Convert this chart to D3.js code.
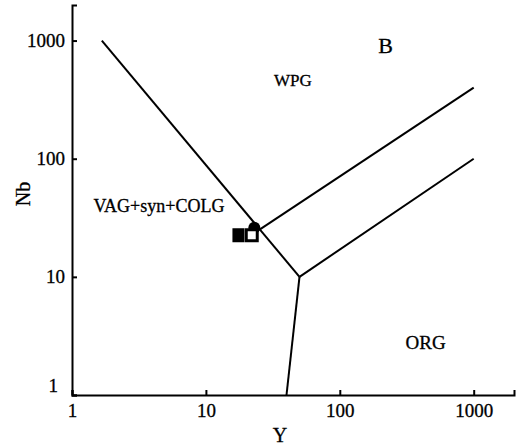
<!DOCTYPE html>
<html lang="en">
<head>
    <meta charset="UTF-8">
    <title>Nb - Y discrimination diagram</title>
    <style>
        body {
            margin: 0;
            padding: 0;
            background: #fff;
            overflow: hidden;
        }

        text {
            font-family: "Liberation Serif", "Times New Roman", serif;
            fill: #000;
            stroke: #000;
            stroke-width: 0.3px;
        }

        .axis path,
        .axis line {
            stroke: #000;
            stroke-width: 2px;
        }

        .boundary {
            fill: none;
            stroke: #000;
            stroke-width: 2px;
        }
    </style>
</head>
<body>
    <script src="https://d3js.org/d3.v7.min.js"></script>
    <script>
        // tick values (both axes, log)
        const yTicksX = [1, 10, 100, 1000];
        const nbTicks = [1, 10, 100, 1000];

        // field boundaries, [Y, Nb]
        const vagWpgLine = [[1.67, 1000], [50, 10]];
        const vagOrgLine = [[40, 1], [50, 10]];
        const orgLowerLine = [[50, 10], [1000, 100]];
        const wpgOrgLine = [[25, 25], [1000, 400]];

        // samples [Y, Nb]
        const filledSquares = [[17.5, 22.5]];
        const openSquares = [[22, 22.5]];
        const circles = [[23, 26]];

        // field labels [text, Y, Nb, size]
        const fieldLabels = [
            ["WPG", 44.6, 415, 17],
            ["VAG+syn+COLG", 4.46, 35.6, 18],
            ["ORG", 438, 2.45, 19],
            ["B", 220, 790, 22]
        ];

        const width = 522, height = 446;

        const svg = d3.select("body").append("svg")
            .attr("width", width)
            .attr("height", height);

        const x = d3.scaleLog().domain([1, 2000]).range([72, 514]);
        const y = d3.scaleLog().domain([1, 2000]).range([395, 5]);

        const fmt = d3.format("d");

        svg.append("g")
            .attr("class", "axis")
            .attr("transform", `translate(0,${y(1)})`)
            .call(d3.axisBottom(x)
                .tickValues(yTicksX)
                .tickFormat(fmt)
                .tickSizeInner(-5)
                .tickSizeOuter(-5)
                .tickPadding(9))
            .call(g => g.selectAll("text").attr("font-size", 19).attr("font-family", null));

        const left = svg.append("g")
            .attr("class", "axis")
            .attr("transform", `translate(${x(1)},0)`)
            .call(d3.axisLeft(y)
                .tickValues(nbTicks)
                .tickFormat(fmt)
                .tickSizeInner(-5)
                .tickSizeOuter(-5)
                .tickPadding(7))
            .call(g => g.selectAll("text").attr("font-size", 19).attr("font-family", null));

        // lowest Nb label sits a bit above the corner
        left.selectAll(".tick text")
            .filter(d => d === 1)
            .attr("dy", "-0.2em")
            .attr("x", -14);

        const line = d3.line()
            .x(d => x(d[0]))
            .y(d => y(d[1]));

        [vagWpgLine, vagOrgLine, orgLowerLine, wpgOrgLine].forEach(pts => {
            svg.append("path")
                .attr("class", "boundary")
                .attr("d", line(pts));
        });

        svg.selectAll(".circ")
            .data(circles)
            .enter().append("circle")
            .attr("cx", d => x(d[0]))
            .attr("cy", d => y(d[1]))
            .attr("r", 6)
            .attr("fill", "#000");

        svg.selectAll(".fsq")
            .data(filledSquares)
            .enter().append("rect")
            .attr("x", d => x(d[0]) - 6)
            .attr("y", d => y(d[1]) - 7)
            .attr("width", 12)
            .attr("height", 14)
            .attr("fill", "#000");

        svg.selectAll(".osq")
            .data(openSquares)
            .enter().append("rect")
            .attr("x", d => x(d[0]) - 5.5)
            .attr("y", d => y(d[1]) - 5.5)
            .attr("width", 11)
            .attr("height", 11)
            .attr("fill", "#fff")
            .attr("stroke", "#000")
            .attr("stroke-width", 3);

        svg.selectAll(".field")
            .data(fieldLabels)
            .enter().append("text")
            .attr("x", d => x(d[1]))
            .attr("y", d => y(d[2]))
            .attr("text-anchor", "middle")
            .attr("font-size", d => d[3])
            .text(d => d[0]);

        svg.append("text")
            .attr("x", 280)
            .attr("y", 442)
            .attr("text-anchor", "middle")
            .attr("font-size", 20)
            .text("Y");

        svg.append("text")
            .attr("transform", "translate(30,194) rotate(-90)")
            .attr("text-anchor", "middle")
            .attr("font-size", 20)
            .text("Nb");
    </script>
</body>
</html>
